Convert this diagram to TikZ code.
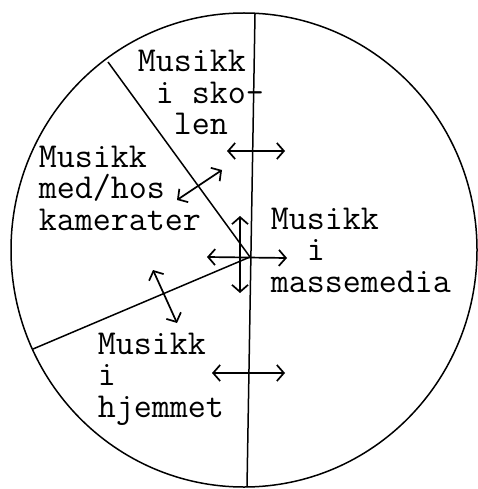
\documentclass[tikz,border=0pt]{standalone}
\usetikzlibrary{arrows.meta}
\begin{document}
\begin{tikzpicture}[x=1pt,y=-1pt,line width=1.5pt,
  lbl/.style={font=\fontsize{35}{31.5}\selectfont\ttfamily,inner sep=0pt,align=left,anchor=base west},
  dbl/.style={{Straight Barb[length=7pt,width=16pt]}-{Straight Barb[length=7pt,width=16pt]},line width=1.7pt}]
\useasboundingbox (0,0) rectangle (478,489);
\coordinate (C) at (244,250);
\draw (C) ellipse [x radius=233, y radius=237];
\coordinate (top) at (255,14);
\coordinate (bot) at (247,487);
\coordinate (M) at (250,257);
\coordinate (ul) at (108,62);
\coordinate (ll) at (33,349);
\draw (top) -- (bot);
\draw (ul) -- (M);
\draw (ll) -- (M);
\node[lbl] (skole) at (137,135) {Musikk\\\phantom{i}i sko-\\\phantom{ii}len};
\node[lbl] (kam) at (38,230) {Musikk\\med/hos\\kamerater};
\node[lbl] (mass) at (270,292) {Musikk\\\phantom{ii}i\\massemedia};
\node[lbl] (hjem) at (97,417) {Musikk\\i\\hjemmet};
\coordinate (a1s) at (227,151); \coordinate (a1e) at (285,151);
\coordinate (a2s) at (177,200); \coordinate (a2e) at (222,170);
\coordinate (a3s) at (240,216); \coordinate (a3e) at (240,293);
\coordinate (a4s) at (207,257); \coordinate (a4e) at (287,258);
\coordinate (a5s) at (153,270); \coordinate (a5e) at (177,323);
\coordinate (a6s) at (212,373); \coordinate (a6e) at (285,373);
\draw[dbl] (a1s) -- (a1e);
\draw[dbl] (a2s) -- (a2e);
\draw[dbl] (a3s) -- (a3e);
\draw[dbl] (a4s) -- (a4e);
\draw[dbl] (a5s) -- (a5e);
\draw[dbl] (a6s) -- (a6e);
\end{tikzpicture}
\end{document}
